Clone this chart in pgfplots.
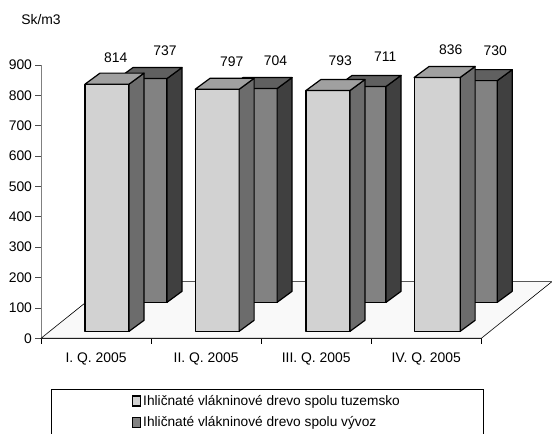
\documentclass[border=0pt]{standalone}
\usepackage{pgfplots}
\pgfplotsset{compat=1.18}
\usepackage{fontspec}
\setmainfont{Liberation Sans}

\definecolor{frontface}{HTML}{D2D2D2}
\definecolor{fronttop}{HTML}{A0A0A0}
\definecolor{frontside}{HTML}{6C6C6C}
\definecolor{backface}{HTML}{828282}
\definecolor{backtop}{HTML}{606060}
\definecolor{backside}{HTML}{404040}
\definecolor{floorfill}{HTML}{F9F9F9}
\definecolor{axisgray}{HTML}{808080}

% one 3D column: x start, width, floor level, value, face/top/side colours
\newcommand{\column}[7]{%
  \pgfmathsetmacro{\xa}{#1}%
  \pgfmathsetmacro{\xb}{#1+#2}%
  \pgfmathsetmacro{\xc}{#1+#2+0.136}%
  \pgfmathsetmacro{\xd}{#1+0.136}%
  \pgfmathsetmacro{\ya}{#3}%
  \pgfmathsetmacro{\yb}{#3+#4}%
  \pgfmathsetmacro{\yc}{#3+#4+36.2}%
  \pgfmathsetmacro{\yd}{#3+36.2}%
  \edef\temp{%
    \noexpand\addplot[forget plot,draw=black,line width=1.2pt,fill=#5,line join=round]
      coordinates {(\xa,\ya) (\xb,\ya) (\xb,\yb) (\xa,\yb)} -- cycle;
    \noexpand\addplot[forget plot,draw=black,line width=1.2pt,fill=#7,line join=round]
      coordinates {(\xb,\ya) (\xc,\yd) (\xc,\yc) (\xb,\yb)} -- cycle;
    \noexpand\addplot[forget plot,draw=black,line width=1.2pt,fill=#6,line join=round]
      coordinates {(\xa,\yb) (\xb,\yb) (\xc,\yc) (\xd,\yc)} -- cycle;
  }\temp
}

\begin{document}
\begin{tikzpicture}[x=1pt,y=1pt]
\fill[white] (0,0) rectangle (552,434);
\path[use as bounding box] (0,0) rectangle (552,434);
\begin{axis}[
    at={(41pt,95.7pt)},
    anchor=south west,
    scale only axis,
    width=440.3pt,
    height=273.3pt,
    xmin=0, xmax=4,
    ymin=0, ymax=900,
    clip=false,
    axis x line=bottom,
    axis y line=left,
    axis line style={-},
    x axis line style={black,line width=0.9pt},
    y axis line style={axisgray,line width=0.9pt},
    xtick={0,1,2,3,4},
    x tick label as interval,
    xticklabels={I. Q. 2005,II. Q. 2005,III. Q. 2005,IV. Q. 2005},
    ytick={0,100,...,900},
    tick align=outside,
    major tick length=5.5pt,
    x tick style={black,line width=0.7pt},
    y tick style={black!70,line width=0.7pt},
    tick label style={font=\fontsize{13.9}{15}\selectfont},
    /pgf/number format/assume math mode=true,
    xticklabel style={yshift=-5pt},
    legend cell align=left,
    legend image code/.code={\draw[#1] (0pt,-5pt) rectangle (8pt,5pt);},
    legend style={
        at={(9.7pt,-50.6pt)},
        anchor=north west,
        draw=black,
        line width=0.7pt,
        font=\fontsize{13.7}{15}\selectfont,
        inner xsep=81pt,
        inner ysep=4pt,
        row sep=6pt,
    },
]

% floor
\addplot[forget plot,draw=black,line width=0.6pt,fill=floorfill]
    coordinates {(0,0) (4,0) (4.642,186.7) (0.642,186.7)} -- cycle;

% back row (vyvoz)
\column{0.70}{0.445}{118.5}{737}{backface}{backtop}{backside}
\column{1.70}{0.445}{118.5}{704}{backface}{backtop}{backside}
\column{2.69}{0.445}{118.5}{711}{backface}{backtop}{backside}
\column{3.70}{0.445}{118.5}{730}{backface}{backtop}{backside}

% front row (tuzemsko)
\column{0.400}{0.400}{23}{814}{frontface}{fronttop}{frontside}
\column{1.400}{0.400}{23}{797}{frontface}{fronttop}{frontside}
\column{2.407}{0.400}{23}{793}{frontface}{fronttop}{frontside}
\column{3.390}{0.418}{23}{836}{frontface}{fronttop}{frontside}

% legend
\addlegendimage{draw=black,line width=1.2pt,fill=frontface}
\addlegendentry{Ihličnaté vlákninové drevo spolu tuzemsko}
\addlegendimage{draw=black,line width=1.2pt,fill=backface}
\addlegendentry{Ihličnaté vlákninové drevo spolu vývoz}

% value labels
\tikzset{vlabel/.style={font=\fontsize{13.9}{15}\selectfont,inner sep=0pt}}
\node[vlabel] at (axis cs:0.679,925) {814};
\node[vlabel] at (axis cs:1.126,946) {737};
\node[vlabel] at (axis cs:1.733,912) {797};
\node[vlabel] at (axis cs:2.130,914) {704};
\node[vlabel] at (axis cs:2.719,913) {793};
\node[vlabel] at (axis cs:3.128,927) {711};
\node[vlabel] at (axis cs:3.722,949) {836};
\node[vlabel] at (axis cs:4.127,947) {730};
\node[vlabel] at (axis cs:0,1051) {Sk/m3};

\end{axis}
\end{tikzpicture}
\end{document}
